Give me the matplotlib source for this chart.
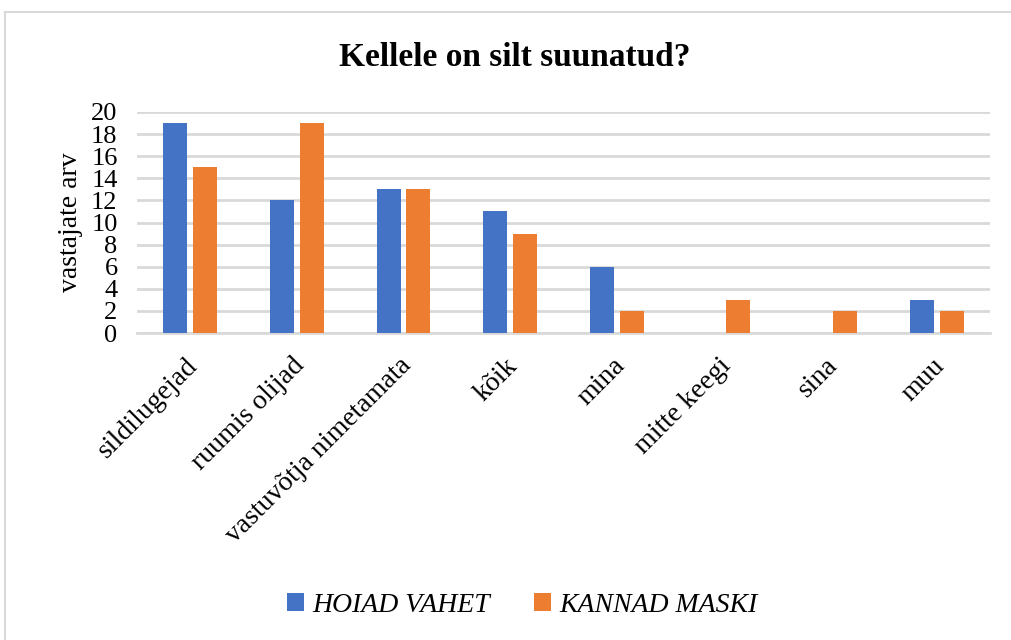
import matplotlib
matplotlib.use("Agg")
import matplotlib.pyplot as plt
import matplotlib.transforms as mtransforms
import numpy as np
from matplotlib.lines import Line2D

categories = ["sildilugejad", "ruumis olijad", "vastuvõtja nimetamata", "kõik",
              "mina", "mitte keegi", "sina", "muu"]
hoiad_vahet = [19, 12, 13, 11, 6, 0, 0, 3]
kannad_maski = [15, 19, 13, 9, 2, 3, 2, 2]
series_names = ["HOIAD VAHET", "KANNAD MASKI"]
yticks = list(range(0, 21, 2))

plt.rcParams['font.family'] = ['Liberation Serif', 'DejaVu Serif']

fig = plt.figure(figsize=(10.11, 6.4), dpi=100)
ax = fig.add_axes([137/1011, 1-333/640, (990-137)/1011, (333-112)/640])

x = np.arange(len(categories))
w = 0.225
off = 0.14
blue = "#4472C4"
orange = "#ED7D31"
ax.bar(x - off, hoiad_vahet, w, color=blue, label=series_names[0], zorder=3)
ax.bar(x + off, kannad_maski, w, color=orange, label=series_names[1], zorder=3)

ax.set_xlim(-0.5, len(categories) - 0.5)
ax.set_ylim(0, 20)
ax.set_yticks(yticks)
ax.set_yticklabels([str(t) for t in yticks], fontsize=19)
ax.tick_params(axis='y', length=0, pad=14)
ax.tick_params(axis='x', length=0, pad=21)
ax.set_xticks(x)
ax.set_xticklabels(categories, rotation=45, ha='right', va='center',
                   rotation_mode='anchor', fontsize=20)
shift = mtransforms.ScaledTranslation(4/100, 0, fig.dpi_scale_trans)
for lbl in ax.get_xticklabels():
    lbl.set_transform(lbl.get_transform() + shift)
ax.grid(axis='y', color='#D9D9D9', linewidth=2, zorder=0)
for s in ['top', 'right', 'left']:
    ax.spines[s].set_visible(False)
ax.spines['bottom'].set_color('#D9D9D9')
ax.spines['bottom'].set_linewidth(2)
ax.set_ylabel("vastajate arv", fontsize=20, labelpad=6)

fig.text(0.509, 1-58/640, "Kellele on silt suunatud?", ha='center', va='center',
         fontsize=24, fontweight='bold')

leg = fig.legend(loc='center', bbox_to_anchor=(522/1011, 1-605/640), ncol=2, frameon=False,
                 prop={'size': 20, 'style': 'italic'}, handlelength=0.6, handleheight=0.6,
                 handletextpad=0.3, columnspacing=1.6)

# outer frame
fig.add_artist(Line2D([5/1011, 5/1011], [-0.1, 1-12/640], transform=fig.transFigure,
                      color='#D9D9D9', lw=1.5))
fig.add_artist(Line2D([5/1011, 1.1], [1-12/640, 1-12/640], transform=fig.transFigure,
                      color='#D9D9D9', lw=1.5))

fig.savefig("out.png", dpi=100)
